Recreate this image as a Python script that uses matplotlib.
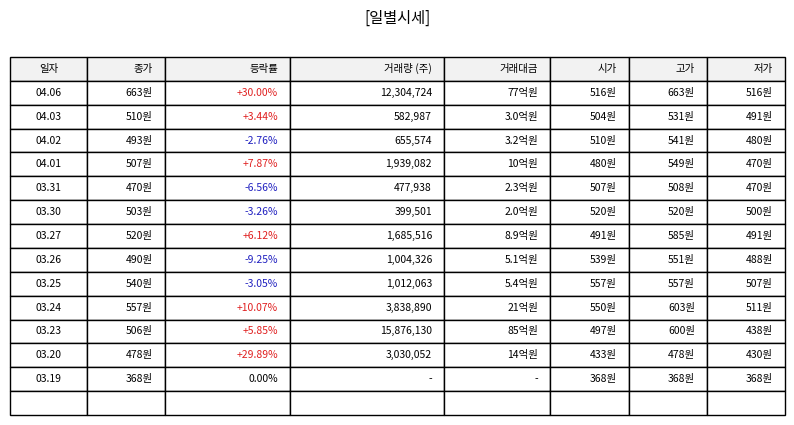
import matplotlib.pyplot as plt

plt.rcParams['font.family'] = ['Noto Sans CJK KR', 'DejaVu Sans']

headers = ['일자', '종가', '등락률', '거래량 (주)', '거래대금', '시가', '고가', '저가']
dates = ['04.06', '04.03', '04.02', '04.01', '03.31', '03.30', '03.27', '03.26',
         '03.25', '03.24', '03.23', '03.20', '03.19']
close = ['663원', '510원', '493원', '507원', '470원', '503원', '520원', '490원',
         '540원', '557원', '506원', '478원', '368원']
change = ['+30.00%', '+3.44%', '-2.76%', '+7.87%', '-6.56%', '-3.26%', '+6.12%',
          '-9.25%', '-3.05%', '+10.07%', '+5.85%', '+29.89%', '0.00%']
volume = ['12,304,724', '582,987', '655,574', '1,939,082', '477,938', '399,501',
          '1,685,516', '1,004,326', '1,012,063', '3,838,890', '15,876,130',
          '3,030,052', '-']
amount = ['77억원', '3.0억원', '3.2억원', '10억원', '2.3억원', '2.0억원', '8.9억원',
          '5.1억원', '5.4억원', '21억원', '85억원', '14억원', '-']
open_ = ['516원', '504원', '510원', '480원', '507원', '520원', '491원', '539원',
         '557원', '550원', '497원', '433원', '368원']
high = ['663원', '531원', '541원', '549원', '508원', '520원', '585원', '551원',
        '557원', '603원', '600원', '478원', '368원']
low = ['516원', '491원', '480원', '470원', '470원', '500원', '491원', '488원',
       '507원', '511원', '438원', '430원', '368원']

col_edges = [10, 87, 165, 290, 444, 550, 629, 707, 785]
W, H = 794, 425
top, bottom = 57, 415

fig = plt.figure(figsize=(W / 100, H / 100), dpi=100)
ax = fig.add_axes([0, 0, 1, 1])
ax.set_xlim(0, W)
ax.set_ylim(H, 0)
ax.axis('off')

fig.text(0.5, 1 - 18 / H, '[일별시세]', ha='center', va='center', fontsize=11)

rows = [headers] + [list(r) for r in zip(dates, close, change, volume, amount, open_, high, low)] + [[''] * 8]
n = len(rows)
rh = (bottom - top) / n
for i, row in enumerate(rows):
    y0 = top + i * rh
    for j, txt in enumerate(row):
        x0, x1 = col_edges[j], col_edges[j + 1]
        ax.add_patch(plt.Rectangle((x0, y0), x1 - x0, rh,
                                   facecolor='#f2f2f2' if i == 0 else 'white',
                                   edgecolor='black', linewidth=1))
        color = 'black'
        if i > 0 and j == 2:
            if txt.startswith('+'):
                color = '#e02020'
            elif txt.startswith('-'):
                color = '#2020c0'
        if j == 0:
            ax.text((x0 + x1) / 2, y0 + rh / 2, txt, ha='center', va='center',
                    fontsize=7.5, color=color)
        else:
            ax.text(x1 - 12, y0 + rh / 2, txt, ha='right', va='center',
                    fontsize=7.5, color=color)

fig.savefig('out.png', dpi=100)
